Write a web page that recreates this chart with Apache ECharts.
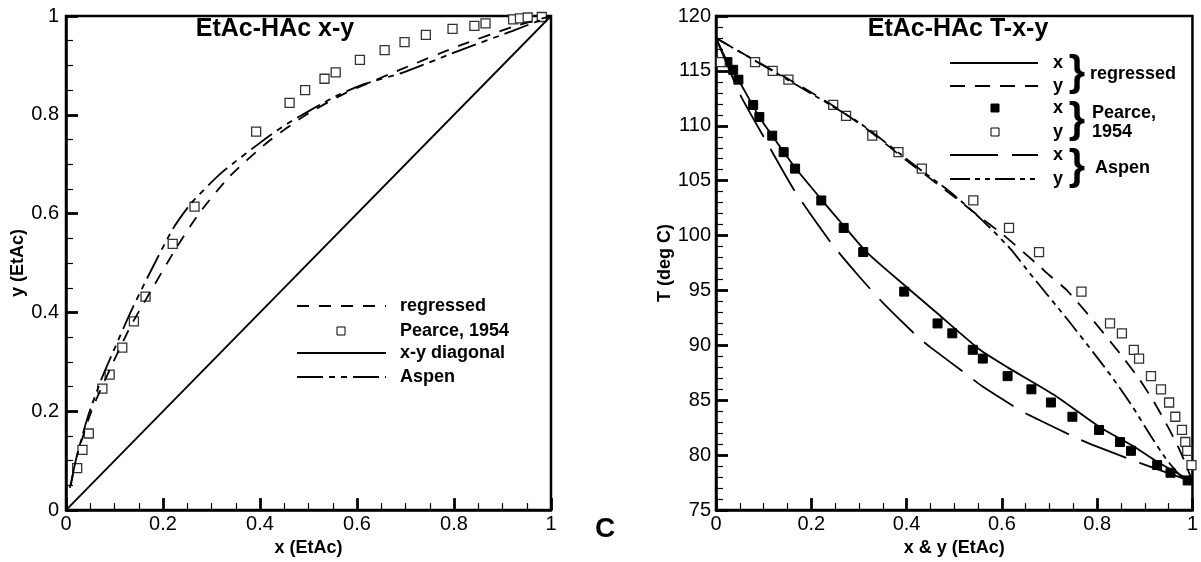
<!DOCTYPE html>
<html>
<head>
<meta charset="utf-8">
<script src="https://cdn.jsdelivr.net/npm/echarts@6/dist/echarts.min.js"></script>
<style>
  html, body { margin: 0; padding: 0; background: #fff; }
  #chart { width: 1201px; height: 562px; }
</style>
</head>
<body>
<div id="chart"></div>
<script>
// left panel: x-y diagram
const xyRegX = [0.01, 0.022, 0.053, 0.093, 0.132, 0.164, 0.227, 0.274, 0.337, 0.416, 0.495, 0.574, 0.693, 0.811, 0.921, 1]
const xyRegY = [0.05, 0.108, 0.202, 0.29, 0.37, 0.425, 0.53, 0.6, 0.675, 0.745, 0.8, 0.843, 0.893, 0.94, 0.978, 1]
const xyAspenX = [0.008, 0.022, 0.045, 0.073, 0.101, 0.132, 0.16, 0.219, 0.258, 0.322, 0.416, 0.456, 0.551, 0.614, 0.693, 0.811, 0.921, 1]
const xyAspenY = [0.045, 0.108, 0.189, 0.265, 0.329, 0.398, 0.455, 0.567, 0.621, 0.684, 0.755, 0.782, 0.835, 0.862, 0.885, 0.93, 0.97, 1]
const xyPearceX = [0.023, 0.034, 0.047, 0.075, 0.09, 0.116, 0.14, 0.164, 0.22, 0.265, 0.392, 0.461, 0.493, 0.533, 0.556, 0.606, 0.657, 0.698, 0.742, 0.797, 0.842, 0.865, 0.922, 0.936, 0.952, 0.981]
const xyPearceY = [0.085, 0.122, 0.155, 0.246, 0.274, 0.329, 0.382, 0.432, 0.539, 0.614, 0.766, 0.824, 0.85, 0.873, 0.886, 0.911, 0.931, 0.947, 0.962, 0.974, 0.98, 0.985, 0.993, 0.995, 0.997, 0.998]
const diagX = [0, 1]
const diagY = [0, 1]

// right panel: T-x-y diagram
const regLiqX = [0, 0.024, 0.047, 0.091, 0.118, 0.166, 0.221, 0.268, 0.316, 0.395, 0.465, 0.554, 0.612, 0.713, 0.804, 0.873, 0.926, 1]
const regLiqT = [118, 115.8, 114.2, 110.8, 109.1, 106.2, 103.3, 100.9, 98.5, 95.5, 92.9, 89.6, 88.0, 85.4, 82.6, 80.9, 79.4, 77.6]
const regVapY = [0, 0.08, 0.15, 0.236, 0.32, 0.395, 0.495, 0.554, 0.602, 0.674, 0.702, 0.737, 0.793, 0.849, 0.889, 0.92, 0.952, 0.976, 0.992, 1]
const regVapT = [118, 116.0, 114.3, 112.1, 109.6, 107.0, 103.7, 101.7, 100.1, 97.4, 96.3, 95.0, 92.2, 89.2, 86.9, 84.8, 82.3, 80.2, 78.5, 77.6]
const aspenLiqX = [0, 0.05, 0.1, 0.166, 0.244, 0.3, 0.352, 0.423, 0.451, 0.531, 0.558, 0.642, 0.674, 0.765, 0.793, 0.889, 1]
const aspenLiqT = [118, 112.9, 109.0, 104.0, 99.2, 96.3, 93.8, 90.8, 89.8, 87.2, 86.3, 84.0, 83.3, 81.4, 80.9, 79.3, 77.6]
const aspenVapY = [0, 0.15, 0.3, 0.435, 0.491, 0.554, 0.618, 0.658, 0.737, 0.793, 0.833, 0.873, 0.912, 0.944, 0.978, 1]
const aspenVapT = [118, 114.2, 110.3, 105.8, 104.0, 101.6, 98.8, 96.6, 92.4, 89.3, 87.0, 84.5, 81.8, 79.7, 78.0, 77.6]
const pearceLiqX = [0.024, 0.036, 0.047, 0.078, 0.091, 0.118, 0.142, 0.166, 0.221, 0.268, 0.309, 0.395, 0.465, 0.496, 0.539, 0.56, 0.612, 0.662, 0.703, 0.748, 0.804, 0.848, 0.871, 0.926, 0.954, 0.99]
const pearceLiqT = [115.8, 115.1, 114.2, 111.9, 110.8, 109.1, 107.6, 106.1, 103.2, 100.7, 98.5, 94.9, 92.0, 91.1, 89.6, 88.8, 87.2, 86.0, 84.8, 83.5, 82.3, 81.2, 80.4, 79.1, 78.4, 77.7]
const pearceVapY = [0.01, 0.082, 0.119, 0.152, 0.246, 0.273, 0.328, 0.383, 0.432, 0.54, 0.615, 0.678, 0.767, 0.827, 0.852, 0.877, 0.888, 0.913, 0.934, 0.951, 0.964, 0.978, 0.985, 0.989, 0.998]
const pearceVapT = [115.8, 115.8, 115.0, 114.2, 111.9, 110.9, 109.1, 107.6, 106.1, 103.2, 100.7, 98.5, 94.9, 92.0, 91.1, 89.6, 88.8, 87.2, 86.0, 84.8, 83.5, 82.3, 81.2, 80.4, 79.1]

const FONT = 'Liberation Sans, Arial, sans-serif'
const pairs = (a, b) => a.map((v, i) => [v, b[i]])

function axis(gridIndex, min, max, interval, minorSplit, margin, name, nameGap) {
  return {
    type: 'value',
    gridIndex,
    min, max, interval,
    name,
    nameLocation: 'middle',
    nameGap,
    nameTextStyle: { color: '#000', fontFamily: FONT, fontWeight: 'bold', fontSize: 18 },
    axisLine: { show: true, onZero: false, lineStyle: { color: '#000', width: 2.5 } },
    axisTick: { show: true, inside: true, length: 12, lineStyle: { color: '#000', width: 2.8 } },
    minorTick: { show: true, splitNumber: minorSplit, length: 7, lineStyle: { color: '#000', width: 1.2 } },
    splitLine: { show: false },
    axisLabel: { color: '#000', fontFamily: FONT, fontSize: 20, margin }
  }
}

function curve(name, xi, yi, x, y, type) {
  return {
    name, type: 'line', xAxisIndex: xi, yAxisIndex: yi,
    data: pairs(x, y), symbol: 'none', smooth: 0.2,
    lineStyle: { color: '#000', width: 1.8, type }
  }
}

function squares(name, xi, yi, x, y, filled) {
  return {
    name, type: 'scatter', xAxisIndex: xi, yAxisIndex: yi,
    data: pairs(x, y), symbol: 'rect', symbolSize: 9,
    itemStyle: filled
      ? { color: '#000', borderColor: '#000', borderWidth: 1, opacity: 1 }
      : { color: '#fff', borderColor: '#333', borderWidth: 1.3, opacity: 1 }
  }
}

// legend pieces are drawn by hand because of the brace layout
function legLine(x1, x2, y, dash) {
  return { type: 'line', shape: { x1, y1: y, x2, y2: y }, style: { stroke: '#000', lineWidth: 1.8, lineDash: dash || null } }
}
function legText(x, y, text, size, align, weight) {
  return {
    type: 'text', x, y,
    style: { text, fill: '#000', font: (weight || 'bold') + ' ' + size + 'px ' + FONT, textAlign: align || 'left', textVerticalAlign: 'middle' }
  }
}
function legBox(cx, cy, filled) {
  return { type: 'rect', shape: { x: cx - 4, y: cy - 4, width: 8, height: 8 }, style: { fill: filled ? '#000' : '#fff', stroke: '#000', lineWidth: 1 } }
}

const dashReg = [12, 10]
const dashAspenL = [26, 6, 6, 6, 6, 6]
const dashRegY = [15, 10]
const dashAspenX = [48, 14]
const dashAspenY = [20, 5, 5, 5, 5, 5]

const chart = echarts.init(document.getElementById('chart'))
chart.setOption({
  animation: false,
  backgroundColor: '#fff',
  grid: [
    { left: 66, top: 16, width: 485, height: 498, show: true, borderColor: '#000', borderWidth: 2.5 },
    { left: 716, top: 16, width: 481, height: 498, show: true, borderColor: '#000', borderWidth: 2.5 }
  ],
  xAxis: [
    axis(0, 0, 1, 0.2, 4, 4, 'x (EtAc)', 24),
    axis(1, 0, 1, 0.2, 4, 4, 'x & y (EtAc)', 24)
  ],
  yAxis: [
    axis(0, 0, 1, 0.2, 4, 7, 'y (EtAc)', 35),
    axis(1, 75, 120, 5, 5, 5, 'T (deg C)', 40)
  ],
  series: [
    curve('x-y diagonal', 0, 0, diagX, diagY, 'solid'),
    curve('regressed', 0, 0, xyRegX, xyRegY, dashReg),
    curve('Aspen', 0, 0, xyAspenX, xyAspenY, dashAspenL),
    squares('Pearce, 1954', 0, 0, xyPearceX, xyPearceY, false),

    curve('regressed x', 1, 1, regLiqX, regLiqT, 'solid'),
    curve('regressed y', 1, 1, regVapY, regVapT, dashRegY),
    curve('Aspen x', 1, 1, aspenLiqX, aspenLiqT, dashAspenX),
    curve('Aspen y', 1, 1, aspenVapY, aspenVapT, dashAspenY),
    squares('Pearce x', 1, 1, pearceLiqX, pearceLiqT, true),
    squares('Pearce y', 1, 1, pearceVapY, pearceVapT, false)
  ],
  graphic: [
    legText(275, 29, 'EtAc-HAc x-y', 25, 'center'),
    legText(958, 29, 'EtAc-HAc T-x-y', 25, 'center'),
    legText(605, 529, 'C', 28, 'center'),

    // left legend
    legLine(297, 386, 306, dashReg), legText(400, 306, 'regressed', 18),
    legBox(341, 331, false), legText(400, 331, 'Pearce, 1954', 18),
    legLine(297, 386, 353), legText(400, 353, 'x-y diagonal', 18),
    legLine(297, 386, 377, dashAspenL), legText(400, 377, 'Aspen', 18),

    // right legend
    legLine(950, 1038, 63), legText(1058, 63, 'x', 18, 'center'),
    legLine(950, 1038, 86, dashRegY), legText(1058, 86, 'y', 18, 'center'),
    legBox(995, 108, true), legText(1058, 108, 'x', 18, 'center'),
    legBox(995, 132, false), legText(1058, 132, 'y', 18, 'center'),
    legLine(950, 1038, 155, dashAspenX), legText(1058, 155, 'x', 18, 'center'),
    legLine(950, 1038, 179, dashAspenY), legText(1058, 179, 'y', 18, 'center'),
    legText(1077, 73, '}', 42, 'center'),
    legText(1077, 120, '}', 42, 'center'),
    legText(1077, 167, '}', 42, 'center'),
    legText(1090, 74, 'regressed', 18),
    legText(1092, 113, 'Pearce,', 18),
    legText(1092, 132, '1954', 18),
    legText(1095, 168, 'Aspen', 18)
  ]
})
</script>
</body>
</html>
